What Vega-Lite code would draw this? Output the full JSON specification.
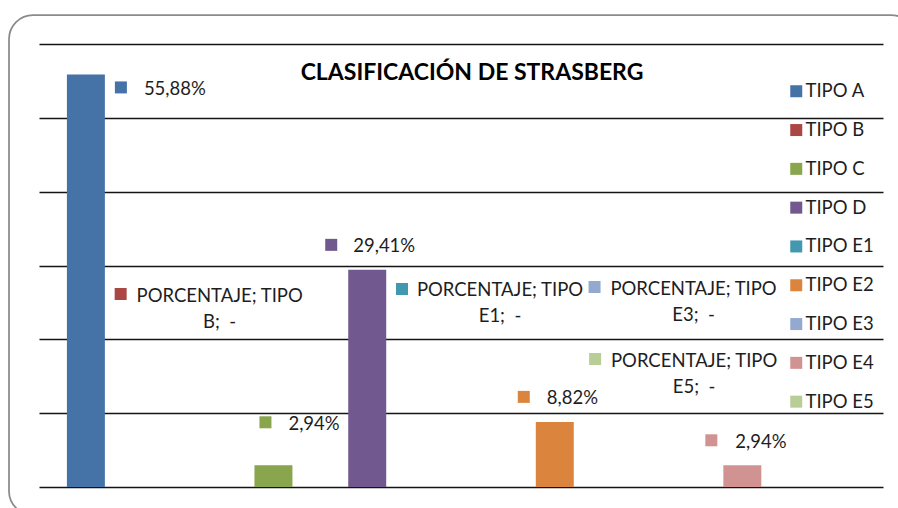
{
  "$schema": "https://vega.github.io/schema/vega-lite/v6.json",
  "width": 906,
  "height": 500,
  "autosize": {"type": "none"},
  "padding": {"left": 9, "top": 15, "right": 0, "bottom": 0},
  "background": "white",
  "config": {
    "view": {"stroke": "#8a8a8a", "strokeWidth": 1.75, "cornerRadius": 24, "fill": "white"},
    "font": "Lato"
  },
  "title": {
    "text": "CLASIFICACIÓN DE STRASBERG",
    "font": "Lato",
    "fontSize": 23,
    "fontWeight": "bold",
    "color": "#000000",
    "anchor": "middle",
    "frame": "group",
    "baseline": "alphabetic",
    "offset": 0,
    "dx": 10,
    "dy": 88
  },
  "data": {
    "values": [
      {"tipo": "TIPO A", "porcentaje": 0.5588, "etiqueta": "55,88%"},
      {"tipo": "TIPO B", "porcentaje": 0, "etiqueta": "PORCENTAJE; TIPO\nB;\u00a0\u00a0-"},
      {"tipo": "TIPO C", "porcentaje": 0.0294, "etiqueta": "2,94%"},
      {"tipo": "TIPO D", "porcentaje": 0.2941, "etiqueta": "29,41%"},
      {"tipo": "TIPO E1", "porcentaje": 0, "etiqueta": "PORCENTAJE; TIPO\nE1;\u00a0\u00a0-"},
      {"tipo": "TIPO E2", "porcentaje": 0.0882, "etiqueta": "8,82%"},
      {"tipo": "TIPO E3", "porcentaje": 0, "etiqueta": "PORCENTAJE; TIPO\nE3;\u00a0\u00a0-"},
      {"tipo": "TIPO E4", "porcentaje": 0.0294, "etiqueta": "2,94%"},
      {"tipo": "TIPO E5", "porcentaje": 0, "etiqueta": "PORCENTAJE; TIPO\nE5;\u00a0\u00a0-"}
    ]
  },
  "encoding": {
    "x": {
      "field": "tipo",
      "type": "nominal",
      "sort": null,
      "scale": {"range": [30, 874], "paddingInner": 0.595, "paddingOuter": 0.2975},
      "axis": null
    },
    "y": {
      "field": "porcentaje",
      "type": "quantitative",
      "scale": {"domain": [0, 0.6], "range": [472, 29], "nice": false, "zero": true},
      "axis": {
        "grid": true,
        "gridColor": "#141414",
        "gridWidth": 1.6,
        "gridOpacity": 1,
        "domain": false,
        "ticks": false,
        "labels": false,
        "title": null,
        "values": [0, 0.1, 0.2, 0.3, 0.4, 0.5, 0.6]
      }
    }
  },
  "layer": [
    {
      "mark": {"type": "bar"},
      "encoding": {
        "color": {
          "field": "tipo",
          "type": "nominal",
          "scale": {
            "domain": ["TIPO A", "TIPO B", "TIPO C", "TIPO D", "TIPO E1", "TIPO E2", "TIPO E3", "TIPO E4", "TIPO E5"],
            "range": ["#4572A7", "#AA4643", "#89A54E", "#71588F", "#4198AF", "#DB843D", "#93A9CF", "#D19392", "#B9CD96"]
          },
          "legend": {
            "orient": "none",
            "legendX": 778,
            "legendY": 67,
            "title": null,
            "padding": 0,
            "symbolType": "square",
            "symbolSize": 144,
            "symbolStrokeWidth": 0,
            "symbolOpacity": 1,
            "labelFont": "Lato",
            "labelFontSize": 18.5,
            "labelColor": "#1e1e1e",
            "labelOffset": 0,
            "rowPadding": 19.8
          }
        }
      }
    },
    {
      "transform": [{"filter": "datum.tipo === 'TIPO A'"}],
      "layer": [
        {"mark": {"type": "point", "shape": "square", "filled": true, "size": 144, "opacity": 1, "strokeWidth": 0, "xOffset": 35, "yOffset": 13},
         "encoding": {"color": {"field": "tipo", "type": "nominal"}}},
        {"mark": {"type": "text", "align": "left", "baseline": "alphabetic", "dx": 58, "dy": 21, "font": "Lato", "fontSize": 18.5, "color": "#1e1e1e"},
         "encoding": {"text": {"field": "etiqueta", "type": "nominal"}}}
      ]
    },
    {
      "transform": [{"filter": "datum.tipo === 'TIPO C'"}],
      "layer": [
        {"mark": {"type": "point", "shape": "square", "filled": true, "size": 144, "opacity": 1, "strokeWidth": 0, "xOffset": -8, "yOffset": -43},
         "encoding": {"color": {"field": "tipo", "type": "nominal"}}},
        {"mark": {"type": "text", "align": "left", "baseline": "alphabetic", "dx": 15, "dy": -35, "font": "Lato", "fontSize": 18.5, "color": "#1e1e1e"},
         "encoding": {"text": {"field": "etiqueta", "type": "nominal"}}}
      ]
    },
    {
      "transform": [{"filter": "datum.tipo === 'TIPO D'"}],
      "layer": [
        {"mark": {"type": "point", "shape": "square", "filled": true, "size": 144, "opacity": 1, "strokeWidth": 0, "xOffset": -36, "yOffset": -25},
         "encoding": {"color": {"field": "tipo", "type": "nominal"}}},
        {"mark": {"type": "text", "align": "left", "baseline": "alphabetic", "dx": -14, "dy": -18, "font": "Lato", "fontSize": 18.5, "color": "#1e1e1e"},
         "encoding": {"text": {"field": "etiqueta", "type": "nominal"}}}
      ]
    },
    {
      "transform": [{"filter": "datum.tipo === 'TIPO E2'"}],
      "layer": [
        {"mark": {"type": "point", "shape": "square", "filled": true, "size": 144, "opacity": 1, "strokeWidth": 0, "xOffset": -31, "yOffset": -25},
         "encoding": {"color": {"field": "tipo", "type": "nominal"}}},
        {"mark": {"type": "text", "align": "left", "baseline": "alphabetic", "dx": -8, "dy": -18, "font": "Lato", "fontSize": 18.5, "color": "#1e1e1e"},
         "encoding": {"text": {"field": "etiqueta", "type": "nominal"}}}
      ]
    },
    {
      "transform": [{"filter": "datum.tipo === 'TIPO E4'"}],
      "layer": [
        {"mark": {"type": "point", "shape": "square", "filled": true, "size": 144, "opacity": 1, "strokeWidth": 0, "xOffset": -31, "yOffset": -25},
         "encoding": {"color": {"field": "tipo", "type": "nominal"}}},
        {"mark": {"type": "text", "align": "left", "baseline": "alphabetic", "dx": -7, "dy": -17, "font": "Lato", "fontSize": 18.5, "color": "#1e1e1e"},
         "encoding": {"text": {"field": "etiqueta", "type": "nominal"}}}
      ]
    },
    {
      "transform": [{"filter": "datum.tipo === 'TIPO B'"}],
      "layer": [
        {"mark": {"type": "point", "shape": "square", "filled": true, "size": 144, "opacity": 1, "strokeWidth": 0, "xOffset": -59, "yOffset": -193},
         "encoding": {"color": {"field": "tipo", "type": "nominal"}}},
        {"mark": {"type": "text", "align": "center", "baseline": "alphabetic", "dx": 40, "dy": -185, "lineBreak": "\n", "lineHeight": 26, "font": "Lato", "fontSize": 18.5, "color": "#1e1e1e"},
         "encoding": {"text": {"field": "etiqueta", "type": "nominal"}}}
      ]
    },
    {
      "transform": [{"filter": "datum.tipo === 'TIPO E1'"}],
      "layer": [
        {"mark": {"type": "point", "shape": "square", "filled": true, "size": 144, "opacity": 1, "strokeWidth": 0, "xOffset": -59, "yOffset": -198},
         "encoding": {"color": {"field": "tipo", "type": "nominal"}}},
        {"mark": {"type": "text", "align": "center", "baseline": "alphabetic", "dx": 39, "dy": -191, "lineBreak": "\n", "lineHeight": 26, "font": "Lato", "fontSize": 18.5, "color": "#1e1e1e"},
         "encoding": {"text": {"field": "etiqueta", "type": "nominal"}}}
      ]
    },
    {
      "transform": [{"filter": "datum.tipo === 'TIPO E3'"}],
      "layer": [
        {"mark": {"type": "point", "shape": "square", "filled": true, "size": 144, "opacity": 1, "strokeWidth": 0, "xOffset": -54, "yOffset": -200},
         "encoding": {"color": {"field": "tipo", "type": "nominal"}}},
        {"mark": {"type": "text", "align": "center", "baseline": "alphabetic", "dx": 45, "dy": -192, "lineBreak": "\n", "lineHeight": 26, "font": "Lato", "fontSize": 18.5, "color": "#1e1e1e"},
         "encoding": {"text": {"field": "etiqueta", "type": "nominal"}}}
      ]
    },
    {
      "transform": [{"filter": "datum.tipo === 'TIPO E5'"}],
      "layer": [
        {"mark": {"type": "point", "shape": "square", "filled": true, "size": 144, "opacity": 1, "strokeWidth": 0, "xOffset": -241, "yOffset": -128},
         "encoding": {"color": {"field": "tipo", "type": "nominal"}}},
        {"mark": {"type": "text", "align": "center", "baseline": "alphabetic", "dx": -142, "dy": -120, "lineBreak": "\n", "lineHeight": 26, "font": "Lato", "fontSize": 18.5, "color": "#1e1e1e"},
         "encoding": {"text": {"field": "etiqueta", "type": "nominal"}}}
      ]
    }
  ]
}
